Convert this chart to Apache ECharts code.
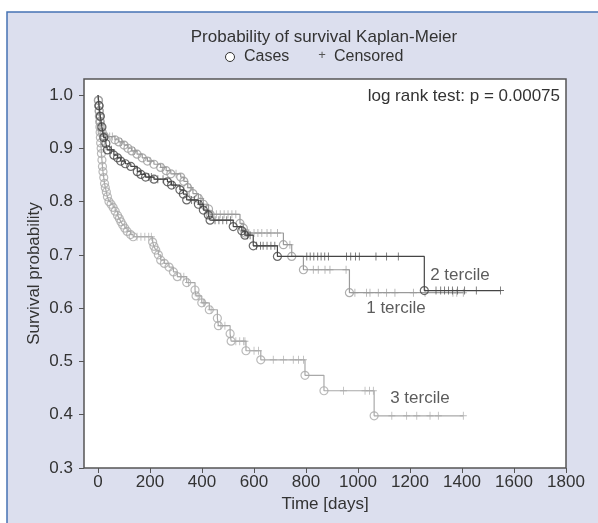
<!DOCTYPE html>
<html>
<head>
<meta charset="utf-8">
<script src="https://cdn.jsdelivr.net/npm/echarts@6/dist/echarts.min.js"></script>
<style>
  html, body { margin: 0; padding: 0; background: #fff; }
  #main { width: 598px; height: 523px; }
</style>
</head>
<body>
<div id="main"></div>
<script>
// survival after each event (time in days), censored times
var t1Times = [1, 3, 5, 7, 9, 12, 16, 25, 65, 80, 100, 115, 130, 150, 170, 190, 215, 241, 262, 280, 318, 330, 345, 365, 386, 405, 425, 431, 546, 559, 565, 713, 745, 790, 967];
var t1Surv  = [0.99, 0.98, 0.97, 0.96, 0.95, 0.94, 0.93, 0.922, 0.916, 0.912, 0.906, 0.900, 0.895, 0.889, 0.882, 0.876, 0.870, 0.864, 0.858, 0.852, 0.846, 0.838, 0.826, 0.815, 0.806, 0.795, 0.786, 0.776, 0.759, 0.750, 0.741, 0.719, 0.697, 0.672, 0.629];
var t1Cens  = [30, 35, 45, 55, 90, 140, 200, 250, 300, 355, 395, 440, 455, 470, 485, 500, 515, 530, 580, 600, 615, 630, 650, 665, 690, 738, 828, 847, 873, 892, 954, 988, 1033, 1046, 1078, 1110, 1142, 1213, 1258, 1365, 1380, 1405];

var t2Times = [4, 9, 15, 22, 30, 36, 61, 75, 87, 105, 126, 151, 165, 183, 215, 267, 283, 315, 328, 341, 386, 405, 424, 431, 520, 553, 565, 597, 690, 1255];
var t2Surv  = [0.98, 0.96, 0.94, 0.92, 0.909, 0.897, 0.887, 0.882, 0.876, 0.871, 0.866, 0.856, 0.851, 0.846, 0.842, 0.837, 0.831, 0.822, 0.814, 0.803, 0.795, 0.784, 0.775, 0.765, 0.753, 0.745, 0.737, 0.717, 0.697, 0.633];
var t2Cens  = [45, 52, 195, 205, 230, 250, 290, 360, 370, 395, 450, 465, 480, 495, 510, 575, 585, 610, 625, 635, 650, 665, 680, 803, 816, 830, 845, 858, 872, 886, 956, 972, 990, 1005, 1069, 1110, 1155, 1300, 1318, 1333, 1348, 1363, 1383, 1410, 1455, 1548];

var t3Times = [2, 3, 4, 5, 6, 7, 8, 9, 10, 12, 13, 15, 17, 19, 22, 25, 28, 32, 36, 42, 50, 58, 66, 75, 82, 88, 95, 103, 112, 125, 135, 210, 215, 222, 232, 241, 255, 273, 290, 305, 341, 373, 377, 399, 428, 459, 463, 508, 512, 569, 626, 796, 869, 1062];
var t3Surv  = [0.99, 0.98, 0.97, 0.96, 0.95, 0.94, 0.93, 0.92, 0.91, 0.90, 0.89, 0.878, 0.866, 0.856, 0.845, 0.834, 0.826, 0.818, 0.809, 0.800, 0.795, 0.789, 0.782, 0.774, 0.768, 0.762, 0.756, 0.750, 0.744, 0.738, 0.734, 0.724, 0.716, 0.709, 0.700, 0.690, 0.684, 0.677, 0.668, 0.659, 0.648, 0.634, 0.623, 0.610, 0.597, 0.581, 0.567, 0.552, 0.538, 0.520, 0.503, 0.474, 0.445, 0.398];
var t3Cens  = [150, 165, 180, 195, 205, 318, 330, 348, 385, 405, 410, 435, 472, 488, 530, 545, 560, 565, 600, 617, 674, 713, 751, 771, 790, 944, 1027, 1044, 1059, 1130, 1187, 1226, 1277, 1309, 1405];

var xTicks = [0, 200, 400, 600, 800, 1000, 1200, 1400, 1600, 1800];
var yTicks = [0.3, 0.4, 0.5, 0.6, 0.7, 0.8, 0.9, 1.0];
var groupNames = ["1 tercile", "2 tercile", "3 tercile"];
var labelAt = [[1146, 0.600], [1392, 0.662], [1238, 0.431]];

var FAMILY = "'Liberation Sans Narrow', 'Liberation Sans', sans-serif";
var colors = ["#9a9a9a", "#454545", "#a9a9a9"];
var PLUS = "path://M4.4,0h1.2v10h-1.2z M0,4.4h10v1.2h-10z";

function survAt(times, surv, t) {
    var s = 1;
    for (var i = 0; i < times.length; i++) {
        if (times[i] <= t) s = surv[i];
    }
    return s;
}

function curveSeries(times, surv, cens, color, z) {
    var line = [[0, 1]];
    for (var i = 0; i < times.length; i++) line.push([times[i], surv[i]]);
    var last = Math.max(times[times.length - 1], cens[cens.length - 1]);
    line.push([last, surv[surv.length - 1]]);
    var ev = times.map(function (t, i) { return [t, surv[i]]; });
    var cs = cens.map(function (t) { return [t, survAt(times, surv, t)]; });
    return [
        {type: "line", step: "end", data: line, symbol: "none", z: z,
            lineStyle: {color: color, width: 1.2}, silent: true},
        {type: "scatter", data: ev, symbol: "circle", symbolSize: 8, z: z,
            itemStyle: {color: "rgba(0,0,0,0)", borderColor: color, borderWidth: 1.2}, silent: true},
        {type: "scatter", data: cs, symbol: PLUS, symbolSize: [7, 8], z: z,
            itemStyle: {color: color}, silent: true}
    ];
}

var txt = {color: "#333", fontSize: 17, fontFamily: FAMILY};
function font(size) { return size + "px " + FAMILY; }

var chart = echarts.init(document.getElementById("main"));
var series = []
    .concat(curveSeries(t3Times, t3Surv, t3Cens, colors[2], 2))
    .concat(curveSeries(t1Times, t1Surv, t1Cens, colors[0], 3))
    .concat(curveSeries(t2Times, t2Surv, t2Cens, colors[1], 4));

series.push({
    type: "scatter", symbolSize: 0, silent: true, z: 6,
    data: labelAt.map(function (p, i) { return {value: p, name: groupNames[i]}; }),
    label: Object.assign({show: true, position: "inside", formatter: "{b}"}, txt)
});

var option = {
    animation: false,
    backgroundColor: "#fff",
    graphic: [
        {type: "rect", shape: {x: 7, y: 12, width: 600, height: 520}, z: -10,
            style: {fill: "#dcdfee", stroke: "#4573b4", lineWidth: 1.5}},
        {type: "text", x: 324, y: 37, z: 10, style: {text: "Probability of survival Kaplan-Meier", fill: "#333",
            font: font(17), align: "center", verticalAlign: "middle"}},
        {type: "circle", shape: {cx: 230, cy: 57, r: 4.5}, z: 10,
            style: {fill: "#fff", stroke: "#333", lineWidth: 1}},
        {type: "text", x: 244, y: 57, z: 10, style: {text: "Cases", fill: "#333",
            font: font(16), verticalAlign: "middle"}},
        {type: "text", x: 322, y: 55, z: 10, style: {text: "+", fill: "#555",
            font: font(13), align: "center", verticalAlign: "middle"}},
        {type: "text", x: 334, y: 57, z: 10, style: {text: "Censored", fill: "#333",
            font: font(16), verticalAlign: "middle"}},
        {type: "text", x: 560, y: 96, z: 10, style: {text: "log rank test: p = 0.00075", fill: "#333",
            font: font(17), align: "right", verticalAlign: "middle"}}
    ],
    grid: {left: 84, top: 79, right: 32, bottom: 55, show: true, backgroundColor: "#fff",
        borderColor: "#555", borderWidth: 1.5},
    xAxis: {
        type: "value", min: -54, max: 1800,
        name: "Time [days]", nameLocation: "middle", nameGap: 28,
        nameTextStyle: txt,
        axisLine: {show: false, onZero: false},
        axisTick: {show: true, length: 5, customValues: xTicks, lineStyle: {color: "#555"}},
        axisLabel: Object.assign({customValues: xTicks, margin: 6,
            formatter: function (v) { return String(v); }}, txt),
        splitLine: {show: false}
    },
    yAxis: {
        type: "value", min: 0.3, max: 1.03,
        name: "Survival probability", nameLocation: "middle", nameGap: 41,
        nameMoveOverlap: false,
        nameTextStyle: txt,
        axisLine: {show: false, onZero: false},
        axisTick: {show: true, length: 5, customValues: yTicks, lineStyle: {color: "#555"}},
        axisLabel: Object.assign({customValues: yTicks, margin: 11,
            formatter: function (v) { return v.toFixed(1); }}, txt),
        splitLine: {show: false}
    },
    series: series
};
chart.setOption(option);
</script>
</body>
</html>
